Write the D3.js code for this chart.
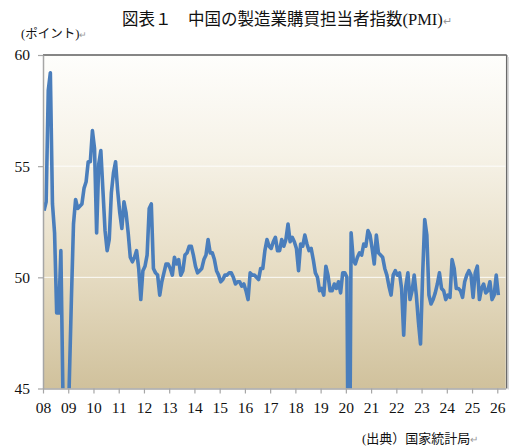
<!DOCTYPE html>
<html>
<head>
<meta charset="utf-8">
<script src="https://cdn.jsdelivr.net/npm/d3@7"></script>
<style>
  html, body { margin: 0; padding: 0; background: #ffffff; }
  svg { display: block; }
</style>
</head>
<body>
<svg id="chart" width="515" height="447"></svg>
<script>
// ---- data (monthly, from Jan 2008) ----
const startYear = 2008;
const pmi2008_2011 = [
  53.0, 53.4, 58.4, 59.2, 53.3, 52.0, 48.4, 48.4, 51.2, 44.6, 38.8, 41.2,
  45.3, 49.0, 52.4, 53.5, 53.1, 53.2, 53.3, 54.0, 54.3, 55.2, 55.2, 56.6,
  55.8, 52.0, 55.1, 55.7, 53.9, 52.1, 51.2, 51.7, 53.8, 54.7, 55.2, 53.9,
  52.9, 52.2, 53.4, 52.9, 52.0, 50.9, 50.7, 50.9, 51.2, 50.4, 49.0, 50.3
];
const pmi2012_2015 = [
  50.5, 51.0, 53.1, 53.3, 50.4, 50.2, 50.1, 49.2, 49.8, 50.2, 50.6, 50.6,
  50.4, 50.1, 50.9, 50.6, 50.8, 50.1, 50.3, 51.0, 51.1, 51.4, 51.4, 51.0,
  50.5, 50.2, 50.3, 50.4, 50.8, 51.0, 51.7, 51.1, 51.1, 50.8, 50.3, 50.1,
  49.8, 49.9, 50.1, 50.1, 50.2, 50.2, 50.0, 49.7, 49.8, 49.8, 49.6, 49.7
];
const pmi2016_2019 = [
  49.4, 49.0, 50.2, 50.1, 50.1, 50.0, 49.9, 50.4, 50.4, 51.2, 51.7, 51.4,
  51.3, 51.6, 51.8, 51.2, 51.2, 51.7, 51.4, 51.7, 52.4, 51.6, 51.8, 51.6,
  51.3, 50.3, 51.5, 51.4, 51.9, 51.5, 51.2, 51.3, 50.8, 50.2, 50.0, 49.4,
  49.5, 49.2, 50.5, 50.1, 49.4, 49.4, 49.7, 49.5, 49.8, 49.3, 50.2, 50.2
];
const pmi2020_2023 = [
  50.0, 35.7, 52.0, 50.8, 50.6, 50.9, 51.1, 51.0, 51.5, 51.4, 52.1, 51.9,
  51.3, 50.6, 51.9, 51.1, 51.0, 50.9, 50.4, 50.1, 49.6, 49.2, 50.1, 50.3,
  50.1, 50.2, 49.5, 47.4, 49.6, 50.2, 49.0, 49.4, 50.1, 49.2, 48.0, 47.0,
  50.1, 52.6, 51.9, 49.2, 48.8, 49.0, 49.3, 49.7, 50.2, 49.5, 49.4, 49.0
];
const pmi2024_2026 = [
  49.2, 49.1, 50.8, 50.4, 49.5, 49.5, 49.4, 49.1, 49.8, 50.1, 50.3, 50.1,
  49.1, 50.2, 50.5, 49.0, 49.5, 49.7, 49.3, 49.4, 49.8, 49.0, 49.2, 50.1,
  49.2
];
const pmi = [].concat(pmi2008_2011, pmi2012_2015, pmi2016_2019, pmi2020_2023, pmi2024_2026);
const xTickLabels = ["08","09","10","11","12","13","14","15","16","17","18","19","20","21","22","23","24","25","26"];
const yTicks = [45, 50, 55, 60];
const gridValues = [50, 55];

// ---- layout ----
const svg = d3.select("#chart");
const L = 43, R = 505.7, T = 55, B = 388.5;
const x = d3.scaleLinear().domain([0, 220]).range([L, R]);
const y = d3.scaleLinear().domain([45, 60]).range([B, T]);
const serif = "'Liberation Serif', 'Noto Sans CJK JP', serif";

// background gradient
const defs = svg.append("defs");
const grad = defs.append("linearGradient").attr("id", "bg").attr("x1", 0).attr("x2", 0).attr("y1", 0).attr("y2", 1);
grad.append("stop").attr("offset", "0%").attr("stop-color", "#fefefc");
grad.append("stop").attr("offset", "30%").attr("stop-color", "#f6f2e7");
grad.append("stop").attr("offset", "65%").attr("stop-color", "#e6dcc3");
grad.append("stop").attr("offset", "100%").attr("stop-color", "#d0c19c");
defs.append("clipPath").attr("id", "clip").append("rect")
  .attr("x", L).attr("y", T).attr("width", R - L).attr("height", B - T);

svg.append("rect").attr("x", L).attr("y", T).attr("width", R - L).attr("height", B - T)
  .attr("fill", "url(#bg)");

// grid
svg.append("g").selectAll("line").data(gridValues).join("line")
  .attr("x1", L).attr("x2", R).attr("y1", d => y(d)).attr("y2", d => y(d))
  .attr("stroke", "#ffffff").attr("stroke-width", 1).attr("opacity", 0.9);

// line
const line = d3.line().x((d, i) => x(i + 0.5)).y(d => y(d)).curve(d3.curveLinear);
svg.append("path").datum(pmi)
  .attr("clip-path", "url(#clip)")
  .attr("d", line)
  .attr("fill", "none")
  .attr("stroke", "#4a7ebc")
  .attr("stroke-width", 3.6)
  .attr("stroke-linejoin", "round")
  .attr("stroke-linecap", "butt");

// frame: top & right dark
svg.append("line").attr("x1", L).attr("x2", R + 1).attr("y1", T).attr("y2", T)
  .attr("stroke", "#5e5e5e").attr("stroke-width", 1.5);
svg.append("line").attr("x1", R + 1).attr("x2", R + 1).attr("y1", T).attr("y2", B)
  .attr("stroke", "#6a6a6a").attr("stroke-width", 1.5);
svg.append("line").attr("x1", R + 2.5).attr("x2", R + 2.5).attr("y1", T + 2).attr("y2", B + 1)
  .attr("stroke", "#cfcfcf").attr("stroke-width", 1.2);

// x axis
const xAxis = d3.axisBottom(x)
  .tickValues(xTickLabels.map((d, i) => i * 12))
  .tickFormat((d, i) => xTickLabels[i])
  .tickSize(5).tickSizeOuter(0).tickPadding(8);
const gx = svg.append("g").attr("transform", `translate(0,${B})`).call(xAxis);
gx.select(".domain").attr("stroke", "#a6a6a6").attr("stroke-width", 1.5);
gx.selectAll(".tick line").attr("stroke", "#a6a6a6").attr("stroke-width", 1.2);
gx.selectAll(".tick text").attr("font-family", serif).attr("font-size", 15.5).attr("fill", "#111");

// y axis
const yAxis = d3.axisLeft(y).tickValues(yTicks).tickFormat(d3.format("d"))
  .tickSize(5).tickSizeOuter(0).tickPadding(8);
const gy = svg.append("g").attr("transform", `translate(${L},0)`).call(yAxis);
gy.select(".domain").attr("stroke", "#a6a6a6").attr("stroke-width", 1.5);
gy.selectAll(".tick line").attr("stroke", "#a6a6a6").attr("stroke-width", 1.2);
gy.selectAll(".tick text").attr("font-family", serif).attr("font-size", 15.5).attr("fill", "#111");

// texts
const title = svg.append("text").attr("x", 122).attr("y", 25)
  .attr("font-family", serif).attr("font-size", 16.5).attr("fill", "#111");
title.append("tspan").text("図表１　中国の製造業購買担当者指数(PMI)");
title.append("tspan").attr("fill", "#999").attr("font-size", 11).text("↵");

const unit = svg.append("text").attr("x", 21).attr("y", 38)
  .attr("font-family", serif).attr("font-size", 12.5).attr("fill", "#111");
unit.append("tspan").text("(ポイント)");
unit.append("tspan").attr("fill", "#999").attr("font-size", 9).text("↵");

const src = svg.append("text").attr("x", 362).attr("y", 443)
  .attr("font-family", serif).attr("font-size", 13).attr("fill", "#111");
src.append("tspan").text("(出典）国家統計局");
src.append("tspan").attr("fill", "#999").attr("font-size", 10).text("↵");
</script>
</body>
</html>
